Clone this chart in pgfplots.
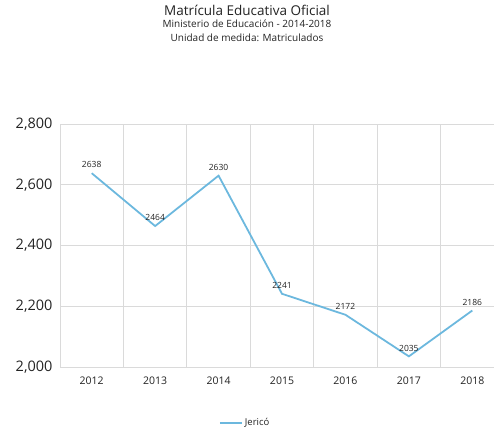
\documentclass[border=0pt]{standalone}
\usepackage{fontspec}
\setmainfont{Open Sans}
\usepackage{pgfplots}
\pgfplotsset{compat=1.18}
\definecolor{serie}{RGB}{108,184,222}
\definecolor{grilla}{RGB}{218,218,218}
\definecolor{texto}{RGB}{35,35,35}
\begin{document}
\begin{tikzpicture}[x=1pt,y=1pt]
\begin{axis}[
    at={(60pt,62pt)}, anchor=south west,
    scale only axis, width=444pt, height=243pt,
    xmin=-0.5, xmax=6.5, ymin=2000, ymax=2800,
    xtick={0,...,6},
    xticklabels={2012,2013,2014,2015,2016,2017,2018},
    minor xtick={-0.5,0.5,...,6.5},
    xminorgrids=true, ymajorgrids=true,
    ytick={2000,2200,...,2800},
    major tick length=0pt, minor tick length=0pt,
    grid style={grilla, line width=0.8pt},
    minor grid style={grilla, line width=0.8pt},
    axis line style={grilla, line width=0.8pt},
    axis x line*=bottom, axis y line*=left,
    y tick label style={font=\fontsize{14.5}{16}\selectfont, text=texto, xshift=-4pt},
    x tick label style={font=\fontsize{10.5}{12}\selectfont, text=texto, yshift=-6pt},
    /pgf/number format/assume math mode=true,
    /pgf/number format/1000 sep={,},
    legend style={at={(0.417,-0.23)}, anchor=center, draw=none, fill=none,
        font=\fontsize{9.5}{11}\selectfont, text=texto},
    legend image code/.code={\draw[#1, line width=2pt] (0pt,0pt) -- (22pt,0pt);},
    clip=false,
]
\addplot[serie, line width=1.8pt,
    nodes near coords,
    every node near coord/.append style={font=\fontsize{8.5}{10}\selectfont, text=texto, anchor=south, yshift=1pt},
    /pgf/number format/1000 sep={},
] coordinates {
    (0,2638) (1,2464) (2,2630) (3,2241) (4,2172) (5,2035) (6,2186)
};
\legend{Jericó}
\end{axis}
\node[font=\fontsize{13.5}{16}\selectfont, text=texto] at (247pt,419pt) {Matrícula Educativa Oficial};
\node[font=\fontsize{10}{12}\selectfont, text=texto] at (247pt,405pt) {Ministerio de Educación - 2014-2018};
\node[font=\fontsize{10}{12}\selectfont, text=texto] at (247pt,391pt) {Unidad de medida: Matriculados};
\pgfresetboundingbox
\useasboundingbox (0,0) rectangle (494pt,429pt);
\end{tikzpicture}
\end{document}
